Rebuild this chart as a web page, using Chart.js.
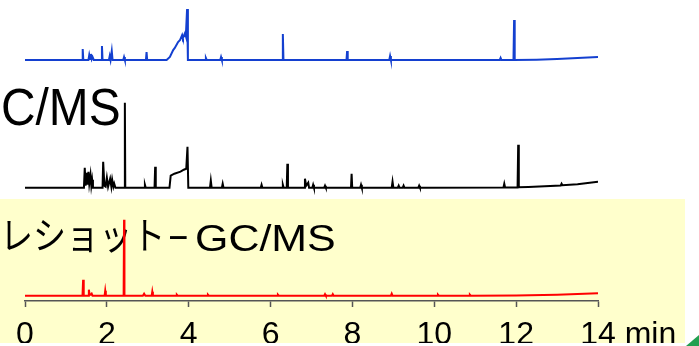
<!DOCTYPE html>
<html>
<head>
<meta charset="utf-8">
<script src="https://cdn.jsdelivr.net/npm/chart.js@4.4.0/dist/chart.umd.min.js"></script>
<style>
html, body { margin: 0; padding: 0; background: #fff; overflow: hidden; }
canvas { display: block; }
</style>
</head>
<body>
<canvas id="chroma" width="699" height="346"></canvas>
<script>
// retention time (min) / relative intensity
var blueTimes = [0, 1.395,1.41,1.425, 1.55,1.57,1.59,1.61,1.63,1.65,1.68, 1.865,1.88,1.895, 2.05,2.07,2.09,2.10,2.12,2.14,
	2.40,2.42,2.44, 2.955,2.97,2.985, 3.46,3.54,3.62,3.66,3.74,3.79,3.84,3.86,3.91,3.93,3.96,3.98,
	4.40,4.42,4.44, 4.77,4.79,4.81, 6.285,6.30,6.315, 7.855,7.87,7.885, 8.90,8.92,8.94,
	11.60,11.62,11.64, 11.935,11.95,11.965, 12.5,13.0,13.5,14.0];
var blueValues = [0, 0,11,0, 0,5,1,6,1,3,0, 0,14,0, 0,4,0,0,9,0,
	0,3,0, 0,8,0, 0,3,10,12,18,20,25,22,27,24,51,0,
	0,2,0, 0,3,0, 0,26,0, 0,9,0, 0,4,0,
	0,2,0, 0,40,0, 0.3,1,2,3];

var blackTimes = [0, 1.44,1.46,1.48,1.51,1.53,1.55,1.57,1.60,1.62,1.64,1.66,
	1.895,1.91,1.94,1.97,2.00,2.03,2.08,2.11,2.13,2.16,2.18,2.21,
	2.43,2.44,2.45, 2.91,2.93,2.95, 3.165,3.18,3.195, 3.53,3.56,3.65,3.80,3.88,3.94,3.97,3.99,
	4.52,4.54,4.56, 4.81,4.83,4.85, 5.76,5.78,5.80, 6.28,6.30,6.32, 6.395,6.41,6.425,
	6.82,6.84,6.87,6.92,6.94, 7.02,7.04,7.06, 7.31,7.33,7.35, 7.965,7.98,7.995, 8.19,8.21,8.23,
	8.96,8.98,9.00, 9.11,9.13,9.15, 9.23,9.25,9.27, 9.61,9.63,9.65, 11.69,11.71,11.73,
	12.035,12.05,12.065, 12.3, 13.09,13.11,13.13, 13.5,14.0];
var blackValues = [0, 0,20,2,15,3,16,4,13,2,8,0,
	0,26,2,1,10,1,9,1,8,1,4,0,
	0,85,0, 0,3,0, 0,21,0, 0,12,14,16,18,19,41,0,
	0,7,0, 0,4,0, 0,3,0, 0,3,0, 0,24,0,
	0,9,2,5,0, 0,3,0, 0,2,0, 0,14,0, 0,3,0,
	0,6,0, 0,2,0, 0,2,0, 0,2,0, 0.2,4,0.2,
	0.3,43,0.5, 0.8, 2.2,4,2.4, 3.5,6];

var redTimes = [0, 1.405,1.42,1.435, 1.54,1.56,1.58,1.61,1.63,1.65, 1.945,1.96,1.975, 2.41,2.42,2.43,
	2.88,2.91,2.94, 3.095,3.11,3.125, 3.69,3.71,3.73, 4.45,4.47,4.49, 6.16,6.18,6.20,
	7.31,7.33,7.35, 7.50,7.52,7.54, 8.94,8.96,8.98, 10.07,10.09,10.11, 10.85,10.87,10.89,
	12.0, 13.0, 14.0];
var redValues = [0, 0,16,0, 0,6,1,1,2,0, 0,5,0, 0,76,0,
	0,2,0, 0,4,0, 0,1,0, 0,1,0, 0,1,0,
	0,1.5,0, 0,1.5,0, 0,2,0, 0,1,0, 0,1,0,
	0.2, 1, 2.5];

var xTicks = [0, 2, 4, 6, 8, 10, 12, 14];
var xUnit = 'min';
var titleTop = 'C/MS';
var titleBottom = ['レショット', '-', 'GC/MS'];

// vertical offset of each trace on the shared axis
var OFFSET_BLUE = 241, OFFSET_BLACK = 113.3, OFFSET_RED = 5.3;
var LATIN = '"Liberation Sans", Arial, sans-serif';

function toPoints(times, values, offset){
	return times.map(function(t, i){ return {x: t, y: offset + values[i]}; });
}

function stretchText(ctx, str, x, y, font, sx){
	ctx.save();
	ctx.font = font;
	ctx.textBaseline = 'alphabetic';
	ctx.textAlign = 'left';
	ctx.fillStyle = '#000';
	ctx.translate(x, y);
	ctx.scale(sx, 1);
	ctx.fillText(str, 0, 0);
	ctx.restore();
}

var slide = {
	id: 'slide',
	beforeDraw: function(chart){
		var ctx = chart.ctx;
		ctx.save();
		ctx.fillStyle = '#fff';
		ctx.fillRect(0, 0, chart.width, chart.height);
		ctx.fillStyle = '#ffffcc';
		ctx.fillRect(0, 199, 685, 144);
		ctx.restore();
	},
	beforeDatasetsDraw: function(chart){
		var ctx = chart.ctx;
		stretchText(ctx, titleTop, 1, 125, '52px ' + LATIN, 0.92);
		stretchText(ctx, titleBottom[0], 0, 249, '38px "Noto Sans CJK JP"', 0.87);
		stretchText(ctx, titleBottom[1], 167, 246.5, '37px ' + LATIN, 1.84);
		stretchText(ctx, titleBottom[2], 195, 251, '37px ' + LATIN, 1.16);
	},
	afterDraw: function(chart){
		var ctx = chart.ctx;
		var sc = chart.scales.x;
		var last = xTicks[xTicks.length - 1];
		ctx.save();
		ctx.font = '32px ' + LATIN;
		ctx.fillStyle = '#000';
		ctx.textBaseline = 'middle';
		ctx.textAlign = 'left';
		var px = sc.getPixelForValue(last) + ctx.measureText(String(last)).width / 2 + ctx.measureText(' ').width;
		ctx.fillText(xUnit, px, sc.top + 6 + 12 + 16);
		// white strip at the bottom edge
		ctx.fillStyle = '#fff';
		ctx.fillRect(0, 343, chart.width, chart.height - 343);
		// little green corner
		ctx.fillStyle = '#22a050';
		ctx.beginPath();
		ctx.moveTo(686, 346);
		ctx.lineTo(699, 346);
		ctx.lineTo(699, 335);
		ctx.closePath();
		ctx.fill();
		ctx.restore();
	}
};

new Chart(document.getElementById('chroma'), {
	type: 'line',
	data: {
		datasets: [
			{ label: 'blue', data: toPoints(blueTimes, blueValues, OFFSET_BLUE), borderColor: '#1440d0', borderWidth: 2 },
			{ label: 'black', data: toPoints(blackTimes, blackValues, OFFSET_BLACK), borderColor: '#000', borderWidth: 2 },
			{ label: 'red', data: toPoints(redTimes, redValues, OFFSET_RED), borderColor: '#ff0000', borderWidth: 2 }
		]
	},
	options: {
		responsive: false,
		animation: false,
		layout: { padding: { left: 25, right: 101, top: 0, bottom: 0 } },
		elements: { point: { radius: 0 }, line: { tension: 0, fill: false } },
		plugins: { legend: { display: false }, tooltip: { enabled: false } },
		scales: {
			x: {
				type: 'linear',
				min: 0,
				max: 14,
				afterBuildTicks: function(scale){ scale.ticks = xTicks.map(function(v){ return {value: v}; }); },
				afterFit: function(scale){ scale.height = 45; },
				grid: { display: true, drawOnChartArea: false, drawTicks: true, tickLength: 6, tickColor: '#555', tickWidth: 1.5 },
				border: { display: true, color: '#555', width: 1.5 },
				ticks: {
					color: '#000',
					padding: 12,
					maxRotation: 0,
					autoSkip: false,
					font: { family: LATIN, size: 32, lineHeight: 1 }
				}
			},
			y: { display: false, min: 0, max: 301 }
		}
	},
	plugins: [slide]
});
</script>
</body>
</html>
